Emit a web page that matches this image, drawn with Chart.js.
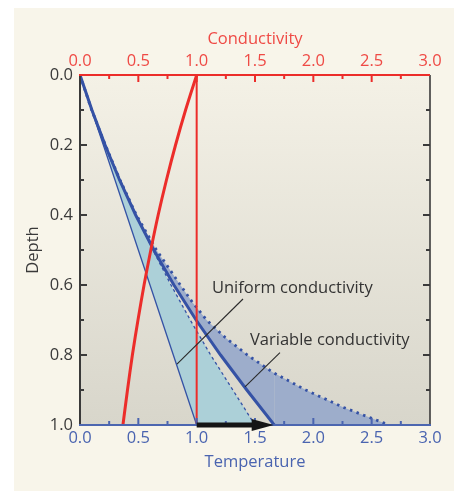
<!DOCTYPE html>
<html>
<head>
<meta charset="utf-8">
<script src="https://cdn.jsdelivr.net/npm/chart.js@4.4.1/dist/chart.umd.min.js"></script>
<style>
  body { margin: 0; background: #ffffff; }
  canvas { display: block; }
</style>
</head>
<body>
<canvas id="chart" width="460" height="491"></canvas>
<script>
// depths (0 = surface, 1 = base)
const depths = [0, 0.1, 0.2, 0.3, 0.4, 0.5, 0.6, 0.7, 0.8, 0.9, 1.0];
const depthsFine = [0, 0.1, 0.2, 0.3, 0.4, 0.5, 0.6, 0.65, 0.7, 0.75, 0.8, 0.85, 0.9, 0.95, 1.0];

// conductivity profile (top axis)
const conductivity = [1.0, 0.905, 0.819, 0.741, 0.670, 0.607, 0.549, 0.497, 0.449, 0.407, 0.368];
const conductivityRef = [1.0, 1.0];
const conductivityRefDepth = [0, 1.0];

// temperatures (bottom axis)
const tempUniform = [0, 0.1, 0.2, 0.3, 0.4, 0.5, 0.6, 0.7, 0.8, 0.9, 1.0];
const tempUniformHeated = [0, 0.105, 0.22, 0.345, 0.48, 0.625, 0.78, 0.945, 1.12, 1.31, 1.5];
const tempVariable = [0, 0.102, 0.215, 0.339, 0.477, 0.632, 0.805, 0.995, 1.205, 1.43, 1.665];
const tempVariableHeated = [0, 0.10, 0.217, 0.343, 0.483, 0.655, 0.86, 0.965, 1.085, 1.245, 1.435, 1.655, 1.935, 2.26, 2.65];

// arrow along the base
const arrowTemps = [1.0, 1.66];
const arrowDepth = 1.0;

const xTicks = [0, 0.5, 1.0, 1.5, 2.0, 2.5, 3.0];
const yTicks = [0, 0.2, 0.4, 0.6, 0.8, 1.0];

const labelTexts = ['Uniform conductivity', 'Variable conductivity'];

const BLUE = '#3552a5';
const BLUE_TXT = '#4a64b0';
const RED = '#ec2d2a';
const RED_TXT = '#ef4a45';
const DARK = '#3a3a3a';
const FONT_NAME = 'Open Sans';
const FONT = { family: FONT_NAME, size: 16.5 };

function pts(xs, ys) {
    return xs.map((v, i) => ({ x: v, y: ys[i] }));
}

// the unheated lines get a hidden run along the base so the fill closes there
const thinData = pts(tempUniform, depths).concat([{ x: tempUniformHeated[tempUniformHeated.length - 1], y: 1.0 }]);
const thickData = pts(tempVariable, depths).concat([{ x: tempVariableHeated[tempVariableHeated.length - 1], y: 1.0 }]);

const hideLast = last => ({ borderColor: c => c.p1DataIndex === last ? 'rgba(0,0,0,0)' : undefined });

const deco = {
    id: 'deco',
    beforeDraw(chart) {
        const { ctx, chartArea: a } = chart;
        ctx.save();
        ctx.fillStyle = '#ffffff';
        ctx.fillRect(0, 0, chart.width, chart.height);
        ctx.fillStyle = '#f8f5ea';
        ctx.fillRect(14, 8, 440, chart.height - 8);
        const g = ctx.createLinearGradient(0, a.top, 0, a.bottom);
        g.addColorStop(0, '#f4f1e6');
        g.addColorStop(1, '#d8d6cb');
        ctx.fillStyle = g;
        ctx.fillRect(a.left, a.top, a.right - a.left, a.bottom - a.top);
        ctx.restore();
    },
    afterDatasetsDraw(chart) {
        const { ctx, chartArea: a, scales } = chart;
        const x = scales.x, x2 = scales.x2, y = scales.y;
        ctx.save();

        // leader lines and labels
        ctx.strokeStyle = '#2a2a2a';
        ctx.lineWidth = 1.1;
        const leaders = [[1.397, 0.64, 0.831, 0.826], [1.714, 0.793, 1.414, 0.891]];
        leaders.forEach(l => {
            ctx.beginPath();
            ctx.moveTo(x.getPixelForValue(l[0]), y.getPixelForValue(l[1]));
            ctx.lineTo(x.getPixelForValue(l[2]), y.getPixelForValue(l[3]));
            ctx.stroke();
        });
        ctx.fillStyle = '#333333';
        ctx.font = '16.5px "' + FONT_NAME + '"';
        ctx.textAlign = 'left';
        ctx.textBaseline = 'middle';
        ctx.fillText(labelTexts[0], x.getPixelForValue(1.131), y.getPixelForValue(0.609));
        ctx.fillText(labelTexts[1], x.getPixelForValue(1.457), y.getPixelForValue(0.757));

        // frame
        ctx.lineWidth = 2;
        ctx.strokeStyle = DARK;
        ctx.beginPath(); ctx.moveTo(a.left, a.top); ctx.lineTo(a.left, a.bottom); ctx.stroke();
        ctx.lineWidth = 1.6;
        ctx.beginPath(); ctx.moveTo(a.right, a.top); ctx.lineTo(a.right, a.bottom); ctx.stroke();

        // inward ticks
        ctx.lineWidth = 2;
        for (let d = 1; d < 10; d++) {
            const py = y.getPixelForValue(d / 10);
            const len = d % 2 === 0 ? 7 : 4;
            ctx.strokeStyle = DARK;
            ctx.beginPath(); ctx.moveTo(a.left, py); ctx.lineTo(a.left + len, py); ctx.stroke();
            ctx.beginPath(); ctx.moveTo(a.right, py); ctx.lineTo(a.right - len, py); ctx.stroke();
        }
        for (let t = 1; t < 12; t++) {
            const len = t % 2 === 0 ? 7 : 4;
            const pxTop = x2.getPixelForValue(t * 0.25);
            ctx.strokeStyle = RED;
            ctx.beginPath(); ctx.moveTo(pxTop, a.top); ctx.lineTo(pxTop, a.top + len); ctx.stroke();
            const pxBot = x.getPixelForValue(t * 0.25);
            ctx.strokeStyle = BLUE_TXT;
            ctx.beginPath(); ctx.moveTo(pxBot, a.bottom); ctx.lineTo(pxBot, a.bottom - len); ctx.stroke();
        }

        ctx.lineWidth = 2;
        ctx.strokeStyle = RED;
        ctx.beginPath(); ctx.moveTo(a.left - 1, a.top); ctx.lineTo(a.right, a.top); ctx.stroke();
        ctx.strokeStyle = '#4c66b0';
        ctx.beginPath(); ctx.moveTo(a.left - 1, a.bottom); ctx.lineTo(a.right + 1, a.bottom); ctx.stroke();

        // arrow
        const ax0 = x.getPixelForValue(arrowTemps[0]);
        const ax1 = x.getPixelForValue(arrowTemps[1]);
        const ay = y.getPixelForValue(arrowDepth);
        const head = 22;
        ctx.fillStyle = '#151515';
        ctx.fillRect(ax0, ay - 2.5, ax1 - head - ax0 + 1, 5);
        ctx.beginPath();
        ctx.moveTo(ax1 - head, ay - 6);
        ctx.lineTo(ax1, ay);
        ctx.lineTo(ax1 - head, ay + 6);
        ctx.closePath();
        ctx.fill();

        ctx.restore();
    }
};

const base = { pointRadius: 0, tension: 0, fill: false };

new Chart(document.getElementById('chart'), {
    type: 'line',
    data: {
        datasets: [
            Object.assign({}, base, {
                label: 'Conductivity',
                data: pts(conductivity, depths),
                xAxisID: 'x2', yAxisID: 'y',
                borderColor: RED, borderWidth: 3, tension: 0.3
            }),
            Object.assign({}, base, {
                label: 'Uniform conductivity',
                data: pts(conductivityRef, conductivityRefDepth),
                xAxisID: 'x2', yAxisID: 'y',
                borderColor: RED, borderWidth: 2
            }),
            Object.assign({}, base, {
                label: 'Variable, no heating',
                data: thickData,
                xAxisID: 'x', yAxisID: 'y',
                borderColor: BLUE, borderWidth: 3,
                segment: hideLast(thickData.length - 1)
            }),
            Object.assign({}, base, {
                label: 'Variable, heated',
                data: pts(tempVariableHeated, depthsFine),
                xAxisID: 'x', yAxisID: 'y',
                borderColor: BLUE, borderWidth: 2.8, borderDash: [2.5, 4.5],
                fill: '-1', backgroundColor: '#9dadcb'
            }),
            Object.assign({}, base, {
                label: 'Uniform, no heating',
                data: thinData,
                xAxisID: 'x', yAxisID: 'y',
                borderColor: BLUE, borderWidth: 1.3,
                segment: hideLast(thinData.length - 1)
            }),
            Object.assign({}, base, {
                label: 'Uniform, heated',
                data: pts(tempUniformHeated, depths),
                xAxisID: 'x', yAxisID: 'y',
                borderColor: BLUE, borderWidth: 1.3, borderDash: [3, 3],
                fill: '-1', backgroundColor: '#acd0d8'
            })
        ]
    },
    options: {
        responsive: false,
        animation: false,
        devicePixelRatio: 1,
        layout: { padding: { left: 0, right: 30, top: 0, bottom: 0 } },
        plugins: { legend: { display: false }, tooltip: { enabled: false } },
        scales: {
            x: {
                type: 'linear', position: 'bottom', min: 0, max: 3,
                afterBuildTicks: s => { s.ticks = xTicks.map(v => ({ value: v })); },
                ticks: { color: BLUE_TXT, font: FONT, padding: 3, maxRotation: 0, callback: v => v.toFixed(1) },
                grid: { drawOnChartArea: false, drawTicks: false },
                border: { display: false },
                title: { display: true, text: 'Temperature', color: BLUE_TXT, font: FONT, padding: { top: 0, bottom: 19 } },
                afterFit: s => { s.height = 66; }
            },
            x2: {
                type: 'linear', position: 'top', min: 0, max: 3,
                afterBuildTicks: s => { s.ticks = xTicks.map(v => ({ value: v })); },
                ticks: { color: RED_TXT, font: FONT, padding: 4, maxRotation: 0, callback: v => v.toFixed(1) },
                grid: { drawOnChartArea: false, drawTicks: false },
                border: { display: false },
                title: { display: true, text: 'Conductivity', color: RED_TXT, font: FONT, padding: { top: 29, bottom: 0 } },
                afterFit: s => { s.height = 75; }
            },
            y: {
                type: 'linear', position: 'left', min: 0, max: 1, reverse: true,
                afterBuildTicks: s => { s.ticks = yTicks.map(v => ({ value: v })); },
                ticks: { color: DARK, font: FONT, padding: 7, callback: v => v.toFixed(1) },
                grid: { drawOnChartArea: false, drawTicks: false },
                border: { display: false },
                title: { display: true, text: 'Depth', color: DARK, font: FONT, padding: { top: 23, bottom: 0 } },
                afterFit: s => { s.width = 80; }
            }
        }
    },
    plugins: [deco]
});
</script>
</body>
</html>
